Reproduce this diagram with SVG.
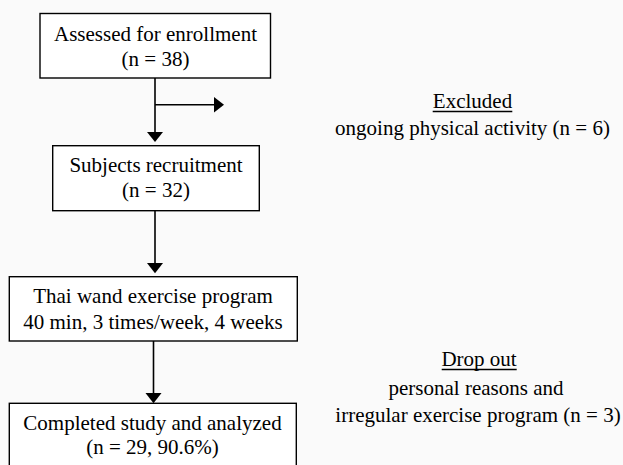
<svg xmlns="http://www.w3.org/2000/svg" width="623" height="465" viewBox="0 0 623 465">
<style>
.box{fill:#fff;stroke:#000;stroke-width:1.4}
.t{font-family:"Liberation Serif","Times New Roman",serif;font-size:21px;fill:#000;text-anchor:middle}
.ln{stroke:#000;stroke-width:1.6;fill:none}
.ah{fill:#000}
</style>
<rect width="623" height="465" fill="#fafafa"/>
<g id="n1">
<rect class="box" x="40" y="13.5" width="230.5" height="64.5"/>
<text class="t" x="155.5" y="41">Assessed for enrollment</text>
<text class="t" x="155.5" y="66">(n = 38)</text>
</g>
<g id="n2">
<rect class="box" x="52.7" y="145.7" width="206.6" height="65"/>
<text class="t" x="156" y="171.5">Subjects recruitment</text>
<text class="t" x="156" y="197">(n = 32)</text>
</g>
<g id="n3">
<rect class="box" x="9.3" y="276.7" width="288" height="64.3"/>
<text class="t" x="153" y="303">Thai wand exercise program</text>
<text class="t" x="153" y="329">40 min, 3 times/week, 4 weeks</text>
</g>
<g id="n4">
<rect class="box" x="9.3" y="403.3" width="287" height="80"/>
<text class="t" x="152.5" y="430">Completed study and analyzed</text>
<text class="t" x="152.5" y="454">(n = 29, 90.6%)</text>
</g>
<g id="excluded">
<text class="t" x="472.5" y="108">Excluded</text>
<line class="ln" x1="432.7" y1="111.5" x2="512.3" y2="111.5" stroke-width="1.2"/>
<text class="t" x="472.5" y="135">ongoing physical activity (n = 6)</text>
</g>
<g id="dropout">
<text class="t" x="479" y="366">Drop out</text>
<line class="ln" x1="441.7" y1="369.5" x2="516.7" y2="369.5" stroke-width="1.2"/>
<text class="t" x="476" y="395">personal reasons and</text>
<text class="t" x="478" y="421.5">irregular exercise program (n = 3)</text>
</g>
<g id="connectors">
<line class="ln" x1="155" y1="78" x2="155" y2="133"/>
<polygon class="ah" points="147,132 163,132 155,142"/>
<line class="ln" x1="155" y1="104.7" x2="215" y2="104.7"/>
<polygon class="ah" points="214,97 214,112.5 224,104.7"/>
<line class="ln" x1="155" y1="210.7" x2="155" y2="264"/>
<polygon class="ah" points="147,263 163,263 155,273.3"/>
<line class="ln" x1="153.5" y1="341" x2="153.5" y2="394"/>
<polygon class="ah" points="145.5,393 161.5,393 153.5,403.3"/>
</g>
</svg>
